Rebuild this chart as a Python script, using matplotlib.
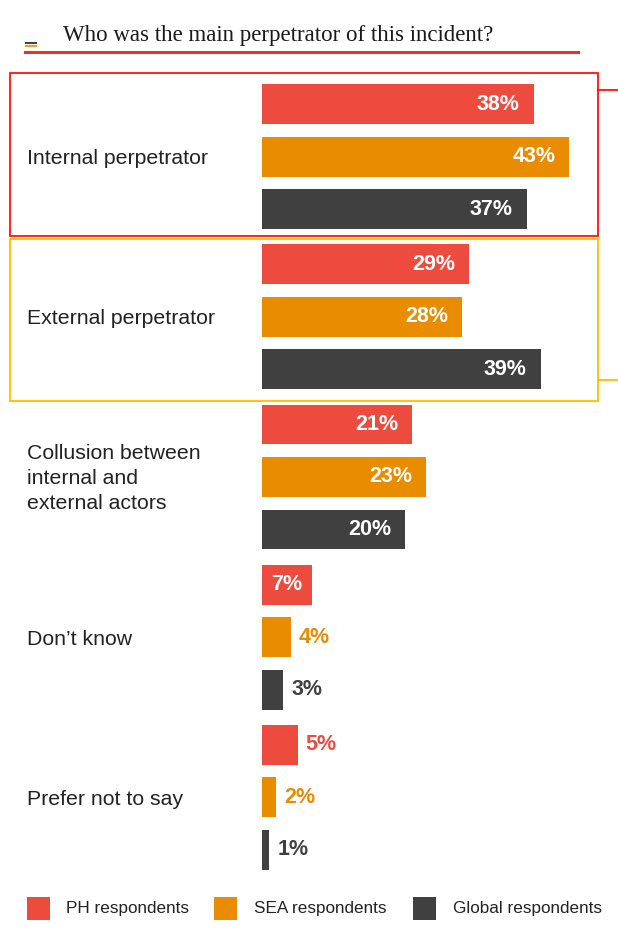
import matplotlib
matplotlib.use("Agg")
import matplotlib.pyplot as plt
from matplotlib.patches import Rectangle
from matplotlib.lines import Line2D

categories = ["Internal perpetrator", "External perpetrator",
              "Collusion between\ninternal and\nexternal actors",
              "Don\u2019t know", "Prefer not to say"]
series_names = ["PH respondents", "SEA respondents", "Global respondents"]
ph_values = [38, 29, 21, 7, 5]
sea_values = [43, 28, 23, 4, 2]
global_values = [37, 39, 20, 3, 1]
title = "Who was the main perpetrator of this incident?"

colors = ["#EE4B3F", "#EA8C00", "#404040"]
sans = "Liberation Sans"

W, H = 618, 940
fig = plt.figure(figsize=(W / 100, H / 100), dpi=100)
fig.patch.set_facecolor("white")


def fx(px):
    return px / W


def fy(py):
    return 1 - py / H


# bar area: pixels 262..618 horizontally, 75..880 vertically
ax = fig.add_axes([fx(262), fy(880), fx(618 - 262), (880 - 75) / H])
px_per_pct = 7.15
ax.set_xlim(0, (618 - 262) / px_per_pct)
group_step = 3.05
unit_px = 52.5
ax.set_ylim(4 * group_step + 2 + (880 - 850) / unit_px, -(104 - 75) / unit_px)
ax.axis("off")

all_series = [ph_values, sea_values, global_values]
for i, cat in enumerate(categories):
    for j, vals in enumerate(all_series):
        y = i * group_step + j
        v = vals[i]
        ax.barh(y, v, height=0.76, color=colors[j], linewidth=0)
        if v >= 10:
            ax.annotate(f"{v}%", (v, y), xytext=(-14, 0), textcoords="offset pixels",
                        ha="right", va="center", color="white", fontsize=15.5,
                        fontweight="bold", family=sans)
        elif v >= 7:
            ax.annotate(f"{v}%", (v / 2, y), ha="center", va="center", color="white",
                        fontsize=15.5, fontweight="bold", family=sans)
        else:
            ax.annotate(f"{v}%", (v, y), xytext=(8, 0), textcoords="offset pixels",
                        ha="left", va="center", color=colors[j], fontsize=15.5,
                        fontweight="bold", family=sans)
    # category label, aligned with the middle bar, at pixel x = 27
    ax.annotate(cat, (0, i * group_step + 1), xytext=(27 - 262, -2),
                textcoords="offset pixels", va="center", ha="left",
                fontsize=15.3, color="#222222", family=sans,
                linespacing=1.4, annotation_clip=False)

# title and rule
fig.text(fx(63), fy(35), title, ha="left", va="center", fontsize=16.5,
         family="Liberation Serif", color="#1a1a1a")
fig.add_artist(Line2D([fx(25), fx(578)], [fy(51.5), fy(51.5)], color="#E0352B", lw=2.2))
fig.add_artist(Rectangle((fx(25), fy(47)), fx(12), 2 / H, color="#E8A020", lw=0))
fig.add_artist(Rectangle((fx(25), fy(44)), fx(12), 2 / H, color="#444444", lw=0))

# highlight frames
fig.add_artist(Rectangle((fx(10), fy(236)), fx(588), (236 - 73) / H, fill=False,
                         edgecolor="#FF1010", lw=1.3))
fig.add_artist(Line2D([fx(598), fx(618)], [fy(90), fy(90)], color="#FF1010", lw=1.3))
fig.add_artist(Rectangle((fx(10), fy(401)), fx(588), (401 - 239) / H, fill=False,
                         edgecolor="#F9C000", lw=1.3))
fig.add_artist(Line2D([fx(598), fx(618)], [fy(380), fy(380)], color="#F9C000", lw=1.3))

# legend
sq_x = [27, 214, 413]
txt_x = [66, 254, 453]
for k, name in enumerate(series_names):
    fig.add_artist(Rectangle((fx(sq_x[k]), fy(920)), fx(23), 23 / H, color=colors[k], lw=0))
    fig.text(fx(txt_x[k]), fy(908), name, ha="left", va="center", fontsize=12.3,
             family=sans, color="#222222")

fig.savefig("out.png", dpi=100, facecolor="white")
